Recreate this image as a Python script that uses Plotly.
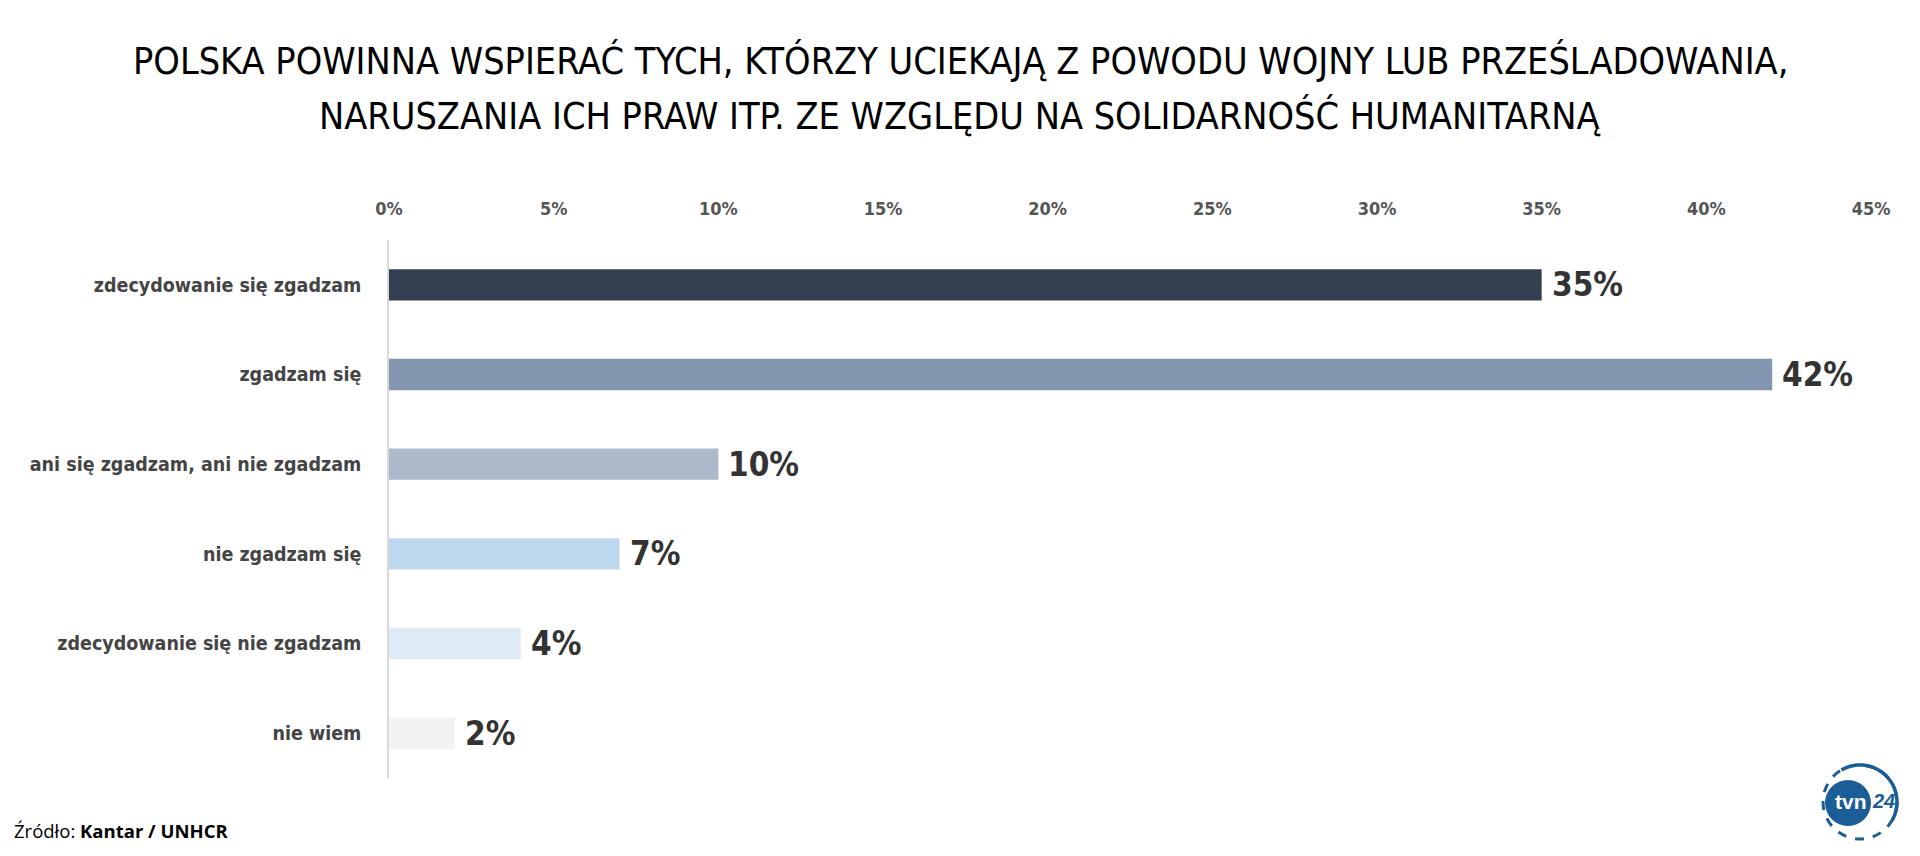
import math
import plotly.graph_objects as go

# ---- data ----
categories = [
    "zdecydowanie się zgadzam",
    "zgadzam się",
    "ani się zgadzam, ani nie zgadzam",
    "nie zgadzam się",
    "zdecydowanie się nie zgadzam",
    "nie wiem",
]
values = [35, 42, 10, 7, 4, 2]
bar_colors = ["#333f50", "#8497b0", "#adb9ca", "#bdd7ee", "#deebf7", "#f2f2f2"]
tick_values = [0, 5, 10, 15, 20, 25, 30, 35, 40, 45]
tick_labels = ["0%", "5%", "10%", "15%", "20%", "25%", "30%", "35%", "40%", "45%"]
title_lines = [
    "POLSKA POWINNA WSPIERAĆ TYCH, KTÓRZY UCIEKAJĄ Z POWODU WOJNY LUB PRZEŚLADOWANIA,",
    "NARUSZANIA ICH PRAW ITP. ZE WZGLĘDU NA SOLIDARNOŚĆ HUMANITARNĄ",
]
source_text = "Źródło: <b>Kantar / UNHCR</b>"

# ---- layout geometry (pixels) ----
W, H = 1920, 856
L, R, T, B = 389, 1871, 240, 778
NARROW = "Liberation Sans Narrow, Arial Narrow, DejaVu Sans Condensed, sans-serif"


def px(xp):
    return (xp - L) / (R - L)


def py(yp):
    return (B - yp) / (B - T)


fig = go.Figure()
fig.add_trace(
    go.Bar(
        x=values,
        y=categories,
        orientation="h",
        marker=dict(color=bar_colors, line=dict(width=0)),
        width=0.35,
        hoverinfo="skip",
    )
)

annotations = []
for v, c in zip(values, categories):
    annotations.append(
        dict(
            x=v, y=c, xref="x", yref="y", text=f"{v}%", showarrow=False,
            xanchor="left", yanchor="middle", xshift=8,
            font=dict(family=NARROW, size=33, color="#333333", weight="bold"),
        )
    )

for line, ypix in zip(title_lines, [61, 116]):
    annotations.append(
        dict(
            x=px(960), y=py(ypix), xref="paper", yref="paper", text=line,
            showarrow=False, xanchor="center", yanchor="middle",
            font=dict(family=NARROW, size=37.5, color="#000000"),
        )
    )

annotations.append(
    dict(
        x=px(12), y=py(830), xref="paper", yref="paper", text=source_text,
        showarrow=False, xanchor="left", yanchor="middle",
        font=dict(family="Open Sans, Noto Sans, sans-serif", size=18.5, color="#000000"),
    )
)

# ---- tvn24 logo (decoration) ----
blue = "#1b5d97"
shapes = []
rcx, rcy, rr = 1860, 802, 37
shapes.append(dict(type="circle", xref="paper", yref="paper",
                   x0=px(rcx - rr), x1=px(rcx + rr), y0=py(rcy + rr), y1=py(rcy - rr),
                   line=dict(color=blue, width=3, dash="dash")))
pts = []
for k in range(0, 41):
    a = math.radians(120 - k * 150 / 40)
    pts.append((px(rcx + rr * math.cos(a)), py(rcy - rr * math.sin(a))))
path = "M " + " L ".join(f"{x:.5f},{y:.5f}" for x, y in pts)
shapes.append(dict(type="path", xref="paper", yref="paper", path=path,
                   line=dict(color=blue, width=3.5)))
ccx, ccy, cr = 1848, 803, 23
shapes.append(dict(type="circle", xref="paper", yref="paper",
                   x0=px(ccx - cr), x1=px(ccx + cr), y0=py(ccy + cr), y1=py(ccy - cr),
                   fillcolor=blue, line=dict(color=blue, width=0)))
annotations.append(dict(x=px(1851), y=py(801), xref="paper", yref="paper", text="<b>tvn</b>",
                        showarrow=False, xanchor="center", yanchor="middle",
                        font=dict(family="Liberation Sans, Arial, sans-serif", size=21, color="white")))
annotations.append(dict(x=px(1883), y=py(801), xref="paper", yref="paper", text="<b><i>24</i></b>",
                        showarrow=False, xanchor="center", yanchor="middle",
                        font=dict(family="Liberation Sans, Arial, sans-serif", size=20, color=blue)))

fig.update_layout(
    width=W, height=H,
    margin=dict(l=L, r=W - R, t=T, b=H - B, pad=0, autoexpand=False),
    paper_bgcolor="white", plot_bgcolor="white",
    showlegend=False,
    xaxis=dict(
        range=[0, 45], side="top", tickvals=tick_values, ticktext=tick_labels,
        showgrid=False, zeroline=False, showline=False, ticks="",
        tickfont=dict(family=NARROW, size=18, color="#555555", weight="bold"),
        ticklabelstandoff=20, fixedrange=True, automargin=False,
    ),
    yaxis=dict(
        type="category", range=[5.5, -0.5], showgrid=False, zeroline=False,
        showline=True, linecolor="#d9d9d9", linewidth=1.5, ticks="",
        tickfont=dict(family=NARROW, size=19.5, color="#444444", weight="bold"),
        ticklabelstandoff=22, fixedrange=True, automargin=False,
    ),
    annotations=annotations,
    shapes=shapes,
)

fig.write_html(
    "out.html",
    config={"displayModeBar": False},
    post_script="document.body.style.margin='0';document.body.style.overflow='hidden';",
)
